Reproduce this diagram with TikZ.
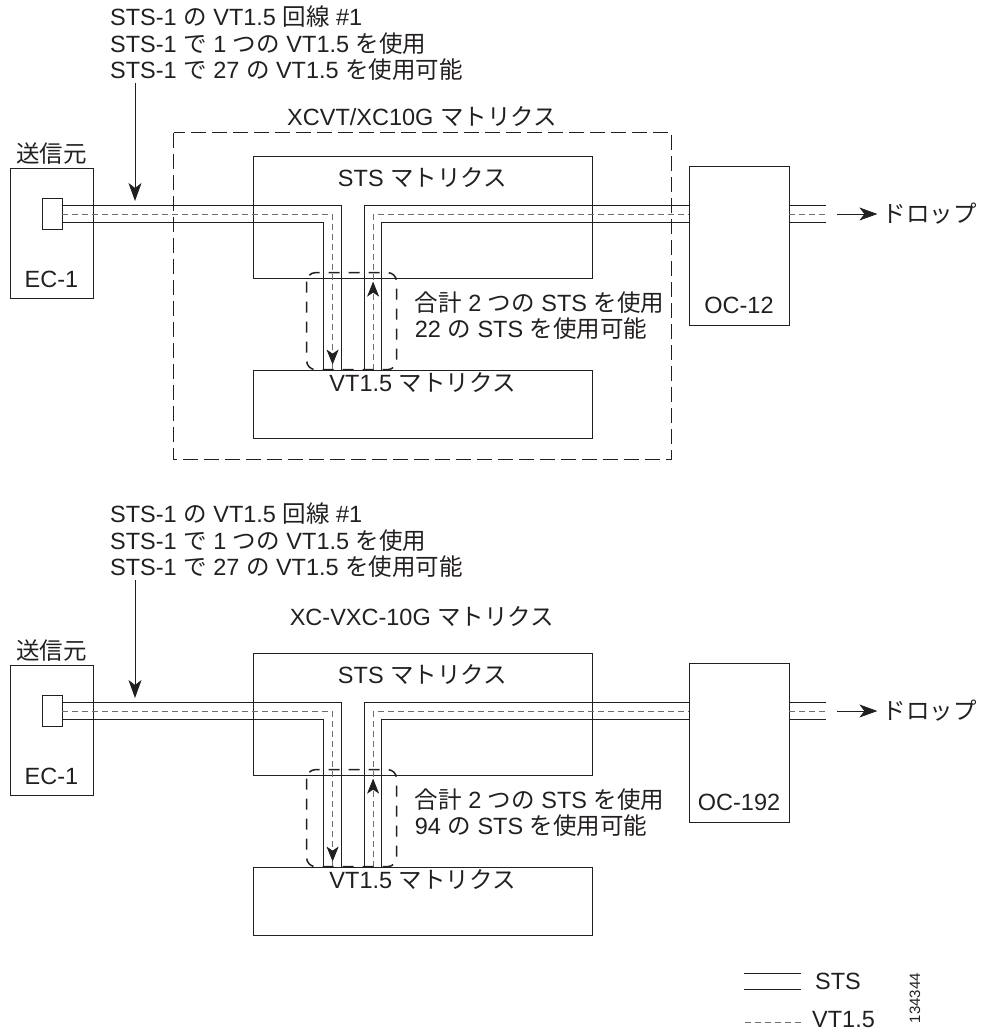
\documentclass[tikz,border=0pt]{standalone}
\usepackage{fontspec}
\setmainfont{Liberation Sans}
\newfontfamily\jpfont{Noto Sans CJK JP}
\newcommand{\ja}[1]{{\jpfont #1}}
\usetikzlibrary{arrows.meta,positioning,calc,decorations.markings}
\definecolor{ink}{HTML}{231F20}
\definecolor{dashgrey}{HTML}{6D6E71}

\begin{document}
\begin{tikzpicture}[x=1pt,y=-1pt,
 every node/.style={font=\fontsize{23.5}{26.5}\selectfont,text=ink,inner sep=2pt},
 box/.style={draw=ink,line width=0.8pt,inner sep=0pt},
 sts/.style={draw=ink,line width=0.8pt},
 vt/.style={draw=dashgrey,line width=0.8pt,dash pattern=on 6pt off 4pt},
 arr/.style={-{Stealth[length=18pt,width=13pt,inset=5pt]},ink,line width=0.8pt},
 grpbox/.style={draw=ink,line width=0.9pt,dash pattern=on 15pt off 6pt},
 usedbox/.style={draw=ink,line width=1.5pt,dash pattern=on 11pt off 9pt,rounded corners=9pt}]
\useasboundingbox (0,0) rectangle (984,1034);
\foreach \i/\oy/\oc/\nf in {1/0/OC-12/22,2/497/OC-192/94}{
\begin{scope}[shift={(0,\oy)}]
\node[anchor=north west,align=left] (note\i) at (108,4) {STS-1 \ja{の} VT1.5 \ja{回線} \#1\\STS-1 \ja{で} 1 \ja{つの} VT1.5 \ja{を使用}\\STS-1 \ja{で} 27 \ja{の} VT1.5 \ja{を使用可能}};
\node[box,minimum width=83pt,minimum height=130pt] (ec\i) at (51.5,233) {};
\node[above=1pt of ec\i.north] (src\i) {\ja{送信元}};
\node[above=8pt of ec\i.south] (ecl\i) {EC-1};
\node[box,minimum width=20pt,minimum height=31pt] (port\i) at (52,214) {};
\node[box,minimum width=339pt,minimum height=122pt] (sts\i) at (422.5,217) {};
\node[box,minimum width=339pt,minimum height=68pt] (vt\i) at (422.5,404) {};
\node[below=10pt of sts\i.north] (stsl\i) {STS \ja{マトリクス}};
\node[below=1pt of vt\i.north] (vtl\i) {VT1.5 \ja{マトリクス}};
\node[box,minimum width=100pt,minimum height=159pt] (oc\i) at (739,245.5) {};
\node[above=9pt of oc\i.south] (ocl\i) {\oc};
\coordinate (in\i) at (135,201);
\coordinate (dn\i) at ($(vt\i.north west)+(80,0)$);
\coordinate (up\i) at ($(vt\i.north west)+(120.5,0)$);
\coordinate (ocin\i) at (oc\i.west |- port\i.east);
\coordinate (ocout\i) at (oc\i.east |- port\i.east);
\coordinate (lnend\i) at ($(ocout\i)+(37,0)$);
\coordinate (dropst\i) at ($(ocout\i)+(48,0)$);
\coordinate (drop\i) at ($(ocout\i)+(88,0)$);
\coordinate (brk\i) at ($(up\i)+(23.5,-54)$);
% STS pair
\foreach \s/\r/\q in {8.5pt/-8.5pt/9pt,-8.5pt/8.5pt/-9pt}{
 \draw[sts] ([yshift=\s]port\i.east) -| ([xshift=\q]dn\i);
 \draw[sts] ([xshift=\r]up\i) |- ([yshift=\s]ocin\i);
 \draw[sts] ([yshift=\s]ocout\i) -- ([yshift=\s]lnend\i);
}
% VT1.5 path
\draw[vt,postaction={decorate},decoration={markings,mark=at position -5pt with {\arrow[ink]{Stealth[length=15pt,width=12pt,inset=4pt]}}}] (port\i.east) -| (dn\i);
\draw[vt,postaction={decorate},decoration={markings,mark=at position 88pt with {\arrow[ink]{Stealth[length=15pt,width=12pt,inset=4pt]}}}] (up\i) |- (ocin\i);
\draw[vt] (ocout\i) -- (lnend\i);
\draw[arr] (note\i.south -| in\i) -- (in\i);
\draw[arr] (dropst\i) -- (drop\i);
\node[right=3pt of drop\i] (dropl\i) {\ja{ドロップ}};
\draw[usedbox] ($(dn\i)+(-26,-97)$) rectangle ($(up\i)+(23.5,0)$);
\node[right=16pt of brk\i,align=left] (usage\i) {\ja{合計} 2 \ja{つの} STS \ja{を使用}\\\nf{} \ja{の} STS \ja{を使用可能}};
\end{scope}}
\node (mtx1) at (422,117) {XCVT/XC10G \ja{マトリクス}};
\node (mtx2) at (422,617) {XC-VXC-10G \ja{マトリクス}};
\draw[grpbox] ($(sts1.north west)+(-79,-23)$) rectangle ($(vt1.south east)+(79,21)$);
% legend
\node[anchor=west] (lgsts) at (813,981) {STS};
\node[anchor=west] (lgvt) at (810,1020) {VT1.5};
\draw[sts] ($(lgsts.west)+(-12,-8)$) -- ++(-57,0);
\draw[sts] ($(lgsts.west)+(-12,8)$) -- ++(-57,0);
\draw[vt] ($(lgvt.west)+(-9,2)$) -- ++(-57,0);
\node[rotate=90,font=\fontsize{15}{17}\selectfont] (figid) at (915,998) {134344};
\end{tikzpicture}
\end{document}
